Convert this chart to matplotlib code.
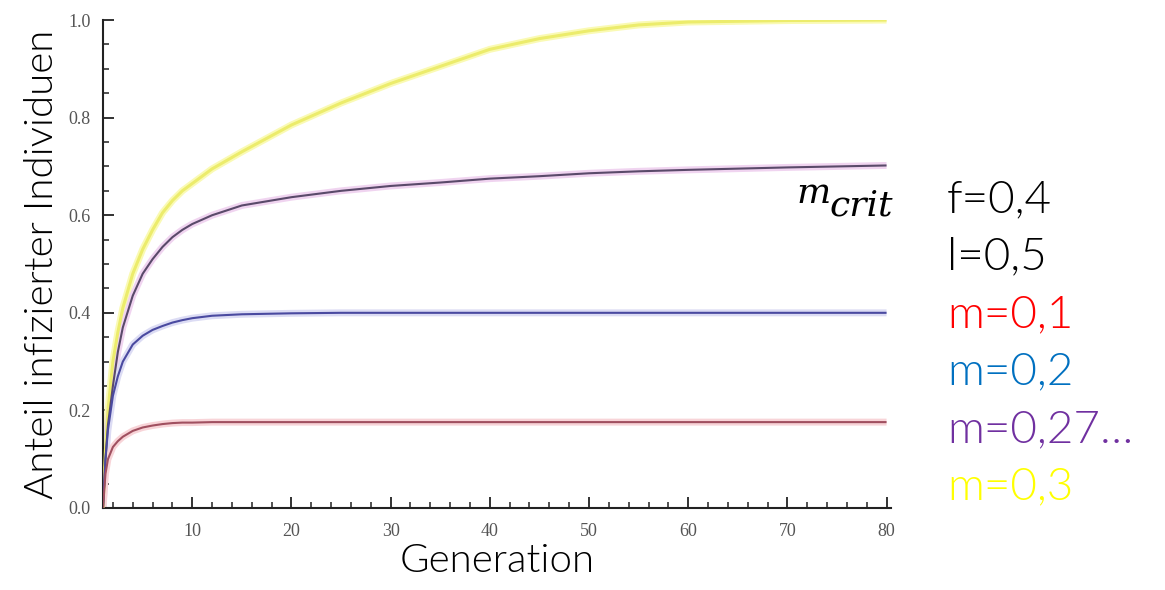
import matplotlib
matplotlib.use("Agg")
import matplotlib.pyplot as plt
from matplotlib.ticker import MultipleLocator
from matplotlib import font_manager as fm

# ---- data ----
generation = [1, 1.25, 1.5, 2, 2.5, 3, 4, 5, 6, 7, 8, 9, 10, 12, 15, 20, 25, 30, 35, 40, 45, 50,
              55, 60, 70, 80]
m_03 = [0.0, 0.12, 0.20, 0.30, 0.36, 0.41, 0.48, 0.53, 0.57, 0.605, 0.63, 0.65, 0.665, 0.695,
        0.73, 0.785, 0.83, 0.87, 0.905, 0.94, 0.962, 0.978, 0.99, 0.996, 0.999, 1.0]
m_crit = [0.0, 0.10, 0.17, 0.25, 0.32, 0.37, 0.435, 0.48, 0.51, 0.535, 0.555, 0.57, 0.582, 0.60,
          0.62, 0.637, 0.65, 0.66, 0.667, 0.675, 0.68, 0.686, 0.69, 0.693, 0.698, 0.702]
m_02 = [0.0, 0.10, 0.16, 0.23, 0.27, 0.30, 0.335, 0.353, 0.365, 0.373, 0.38, 0.385, 0.389, 0.394,
        0.397, 0.399, 0.40, 0.40, 0.40, 0.40, 0.40, 0.40, 0.40, 0.40, 0.40, 0.40]
m_01 = [0.0, 0.07, 0.10, 0.125, 0.137, 0.146, 0.158, 0.165, 0.169, 0.172, 0.174, 0.175, 0.175,
        0.176, 0.176, 0.176, 0.176, 0.176, 0.176, 0.176, 0.176, 0.176, 0.176, 0.176, 0.176, 0.176]

x_ticks = [10, 20, 30, 40, 50, 60, 70, 80]
x_tick_labels = ["10", "20", "30", "40", "50", "60", "70", "80"]
y_ticks = [0.0, 0.2, 0.4, 0.6, 0.8, 1.0]
y_tick_labels = ["0.0", "0.2", "0.4", "0.6", "0.8", "1.0"]

legend_lines = ["f=0,4", "l=0,5", "m=0,1", "m=0,2", "m=0,27…", "m=0,3"]
legend_colors = ["black", "black", "#ff0000", "#0070c0", "#7030a0", "#ffff00"]

# pick a light-but-not-hairline sans weight if available
light_w = "normal"
for f in fm.fontManager.ttflist:
    if f.name == "Lato" and f.weight in (300,):
        light_w = 300
        break

fig = plt.figure(figsize=(11.65, 5.9), dpi=100)
ax = fig.add_axes([0.0884, 0.139, 0.676, 0.827])

series = [
    (m_03, "#fafab4", "#ecec6c", 2.2),
    (m_crit, "#f0d4f0", "#5a4a6a", 1.5),
    (m_02, "#dcdcf4", "#4a4aa0", 1.5),
    (m_01, "#f8d4d8", "#a05060", 1.5),
]
for vals, halo, core, lw in series:
    ax.plot(generation, vals, color=halo, lw=5, solid_capstyle="butt", zorder=2)
    ax.plot(generation, vals, color=core, lw=lw, solid_capstyle="butt", zorder=3)

ax.set_xlim(1, 80.4)
ax.set_ylim(0, 1.0)
ax.spines["top"].set_visible(False)
ax.spines["right"].set_visible(False)
for s in ("left", "bottom"):
    ax.spines[s].set_linewidth(1.5)
    ax.spines[s].set_color("#222222")

ax.xaxis.set_minor_locator(MultipleLocator(2))
ax.yaxis.set_minor_locator(MultipleLocator(0.05))
ax.set_xticks(x_ticks)
ax.set_xticklabels(x_tick_labels, fontsize=13, family="Liberation Serif", color="#555555")
ax.set_yticks(y_ticks)
ax.set_yticklabels(y_tick_labels, fontsize=13, family="Liberation Serif", color="#555555")
ax.tick_params(which="major", direction="in", length=8, width=1.3, color="#222222")
ax.tick_params(axis="x", which="major", pad=11)
ax.tick_params(axis="y", which="major", pad=9)
ax.tick_params(which="minor", direction="in", length=4.5, width=1.1, color="#222222")

ax.set_xlabel("Generation", fontsize=29, family="Lato", fontweight=light_w, labelpad=2)
ax.set_ylabel("Anteil infizierter Individuen", fontsize=29, family="Lato",
              fontweight=light_w, labelpad=6)

# annotation m_crit
fig.text(796 / 1165, 1 - 203 / 590, "m", fontsize=26, family="DejaVu Serif",
         style="italic", ha="left", va="baseline")
fig.text(829 / 1165, 1 - 216 / 590, "crit", fontsize=26, family="DejaVu Serif",
         style="italic", ha="left", va="baseline")

y0 = 0.662
for i, (t, c) in enumerate(zip(legend_lines, legend_colors)):
    fig.text(0.813, y0 - i * 0.0975, t, color=c, fontsize=33, family="Lato",
             fontweight=light_w, ha="left", va="center")

fig.savefig("out.png", dpi=100)
